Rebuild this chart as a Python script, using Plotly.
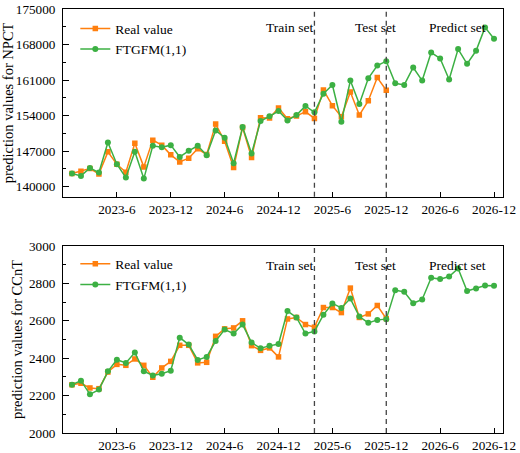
import plotly.graph_objects as go

# monthly index 2023-1 .. 2026-12
months = [f"{y}-{m}" for y in (2023, 2024, 2025, 2026) for m in range(1, 13)]
tick_labels = ["2023-6", "2023-12", "2024-6", "2024-12", "2025-6", "2025-12", "2026-6", "2026-12"]
train_end = "2025-4"
test_end = "2025-12"

npct_ticks = [140000, 147000, 154000, 161000, 168000, 175000]
ccnt_ticks = [2000, 2200, 2400, 2600, 2800, 3000]

npct_real = [142600, 143040, 143570, 142510, 146860, 144420, 142840, 148570, 143900, 149170,
             148180, 146270, 144880, 145610, 147460, 146340, 152330, 148970, 143760, 151670,
             145740, 153580, 153520, 155500, 153380, 153910, 154770, 153450,
             159050, 155960, 153780, 158660, 154110, 156940, 161490, 158990]
npct_fit = [142600, 142120, 143700, 142780, 148700, 144420, 141790, 146860, 141590, 148050,
            147780, 148180, 145870, 147060, 148050, 146200, 151080, 149630, 144620, 151740,
            146530, 152920, 153850, 154900, 153060, 154110, 155890, 154640,
            158330, 160040, 152790, 160900, 156280, 161360, 163860, 164720,
            160370, 160040, 163470, 160900, 166430, 165250, 161100, 167100, 164200, 166770,
            171380, 169140]

ccnt_real = [2258, 2266, 2241, 2237, 2326, 2367, 2362, 2396, 2362, 2298,
             2348, 2383, 2469, 2469, 2375, 2378, 2517, 2557, 2562, 2600,
             2467, 2442, 2455, 2407, 2610, 2618, 2580, 2566,
             2671, 2671, 2644, 2775, 2618, 2637, 2682, 2612]
ccnt_fit = [2258, 2280, 2207, 2232, 2330, 2392, 2375, 2430, 2330, 2308,
            2317, 2333, 2510, 2473, 2391, 2407, 2492, 2553, 2532, 2580,
            2484, 2453, 2466, 2476, 2652, 2618, 2532, 2543,
            2632, 2693, 2669, 2719, 2623, 2589, 2605, 2609,
            2764, 2755, 2694, 2714, 2830, 2823, 2837, 2880, 2759, 2773,
            2789, 2787]

ORANGE = "#FF7F0E"
GREEN = "#3CB043"
FONT = "Liberation Serif"

fig = go.Figure()

panels = [
    (npct_real, npct_fit, "y", "legend", "prediction values for NPCT"),
    (ccnt_real, ccnt_fit, "y2", "legend2", "prediction values for CCnT"),
]
for i, (real, fit, yax, leg, _) in enumerate(panels):
    xa = "x" if i == 0 else "x2"
    fig.add_trace(go.Scatter(
        x=list(range(len(real))), y=real, name="Real value", mode="lines+markers",
        line=dict(color=ORANGE, width=1.5), marker=dict(symbol="square", size=5.5, color=ORANGE),
        xaxis=xa, yaxis=yax, legend=leg))
    fig.add_trace(go.Scatter(
        x=list(range(len(fit))), y=fit, name="FTGFM(1,1)", mode="lines+markers",
        line=dict(color=GREEN, width=1.5), marker=dict(symbol="circle", size=6, color=GREEN),
        xaxis=xa, yaxis=yax, legend=leg))

tick_vals = [months.index(t) for t in tick_labels]
axis_common = dict(showline=True, linecolor="black", linewidth=1, mirror=True, automargin=False,
                   showgrid=False, zeroline=False, ticks="inside", tickcolor="black",
                   ticklabeloverflow="allow",
                   tickfont=dict(family=FONT, size=13.2, color="black"))
title_font = dict(family=FONT, size=14.5, color="black")

fig.update_layout(
    xaxis=dict(axis_common, domain=[0, 1], anchor="y", range=[-1, 48],
               tickvals=tick_vals, ticktext=tick_labels, ticklen=5),
    xaxis2=dict(axis_common, domain=[0, 1], anchor="y2", range=[-1, 48],
                tickvals=tick_vals, ticktext=tick_labels, ticklen=5),
    yaxis=dict(axis_common, domain=[0.557, 1], anchor="x", range=[138000, 175000],
               tickvals=npct_ticks, ticktext=[str(v) for v in npct_ticks], ticklen=6,
               ticklabelstandoff=4,
               minor=dict(ticks="inside", ticklen=3, tickvals=[143500, 150500, 157500, 164500, 171500],
                          tickcolor="black"),
               title=dict(text=panels[0][4], font=title_font, standoff=2)),
    yaxis2=dict(axis_common, domain=[0, 0.441], anchor="x2", range=[2000, 3000],
                tickvals=ccnt_ticks, ticktext=[str(v) for v in ccnt_ticks], ticklen=6,
                ticklabelstandoff=4,
                minor=dict(ticks="inside", ticklen=3, tickvals=[2100, 2300, 2500, 2700, 2900],
                           tickcolor="black"),
                title=dict(text=panels[1][4], font=title_font, standoff=2)),
    legend=dict(x=0.028, y=0.99, xanchor="left", yanchor="top", bgcolor="rgba(0,0,0,0)",
                font=dict(family=FONT, size=13.5, color="black"), tracegroupgap=0, itemwidth=30),
    legend2=dict(x=0.028, y=0.435, xanchor="left", yanchor="top", bgcolor="rgba(0,0,0,0)",
                 font=dict(family=FONT, size=13.5, color="black"), tracegroupgap=0, itemwidth=30),
    width=520, height=453,
    margin=dict(l=63, r=17, t=9, b=20),
    plot_bgcolor="white", paper_bgcolor="white",
    font=dict(family=FONT, color="black"),
)

# dashed separators and set labels
for yref, ytext in (("y", 171300), ("y2", 2898)):
    dom = "y domain" if yref == "y" else "y2 domain"
    xref = "x" if yref == "y" else "x2"
    for m in (train_end, test_end):
        fig.add_shape(type="line", xref=xref, yref=dom, x0=months.index(m), x1=months.index(m),
                      y0=0, y1=1, line=dict(color="#444444", width=1.3, dash="5px,4px"))
    fig.add_annotation(xref=xref, yref=yref, x=months.index(train_end) + 0.05, y=ytext,
                       text="Train set", showarrow=False, xanchor="right",
                       font=dict(family=FONT, size=13.5, color="black"))
    fig.add_annotation(xref=xref, yref=yref, x=33.8, y=ytext,
                       text="Test set", showarrow=False, xanchor="center",
                       font=dict(family=FONT, size=13.5, color="black"))
    fig.add_annotation(xref=xref, yref=yref, x=42.9, y=ytext,
                       text="Predict set", showarrow=False, xanchor="center",
                       font=dict(family=FONT, size=13.5, color="black"))

fig.write_html("out.html", config={"displayModeBar": False},
               post_script="document.body.style.margin='0px';")
